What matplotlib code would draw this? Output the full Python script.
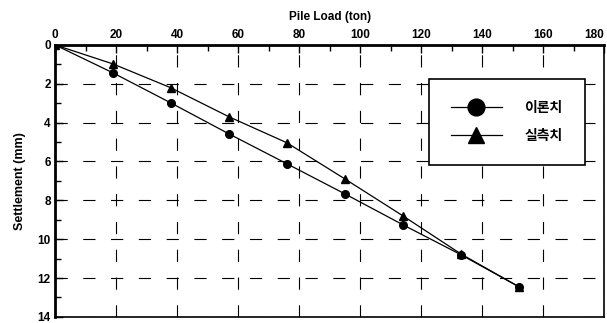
import matplotlib
matplotlib.use('Agg')
import matplotlib.pyplot as plt
from matplotlib.ticker import MultipleLocator

plt.rcParams['font.family'] = ['Liberation Sans', 'Noto Sans CJK KR', 'DejaVu Sans']

load = [0, 19, 38, 57, 76, 95, 114, 133, 152]
theory = [0, 1.44, 2.99, 4.58, 6.12, 7.67, 9.26, 10.8, 12.45]
measured = [0, 0.98, 2.21, 3.7, 5.04, 6.9, 8.8, 10.76, 12.45]
x_ticks = [0, 20, 40, 60, 80, 100, 120, 140, 160, 180]
y_ticks = [0, 2, 4, 6, 8, 10, 12, 14]

fig = plt.figure(figsize=(6.07, 3.23), dpi=100)
ax = fig.add_axes([0.0906, 0.019, 0.905, 0.842])

ax.plot(load, theory, '-o', color='black', lw=0.9, ms=5.5, label='이론치')
ax.plot(load, measured, '-^', color='black', lw=0.9, ms=5.5, label='실측치')

ax.set_xlim(0, 180)
ax.set_ylim(14, 0)
ax.set_xticks(x_ticks)
ax.set_xticklabels([str(t) for t in x_ticks], fontweight='bold')
ax.set_yticks(y_ticks)
ax.set_yticklabels([str(t) for t in y_ticks], fontweight='bold')
ax.xaxis.set_minor_locator(MultipleLocator(10))
ax.yaxis.set_minor_locator(MultipleLocator(1))
ax.xaxis.tick_top()
ax.xaxis.set_label_position('top')
ax.tick_params(which='both', direction='in', top=True, bottom=False, left=True, right=False,
               labelsize=8.5, pad=3)
ax.tick_params(which='major', length=6, width=1)
ax.tick_params(which='minor', length=4, width=1)
last = ax.xaxis.get_major_ticks()[-1]
last.label2.set_horizontalalignment('right')
last.label1.set_horizontalalignment('right')

ax.grid(True, which='major', color='black', lw=0.8, linestyle=(0, (11, 14)))

ax.spines['top'].set_linewidth(2)
ax.spines['left'].set_linewidth(2)
ax.spines['right'].set_linewidth(1.2)
ax.spines['bottom'].set_linewidth(1.2)

ax.set_xlabel('Pile Load (ton)', fontsize=8.5, fontweight='bold', labelpad=6)
ax.set_ylabel('Settlement (mm)', fontsize=9, fontweight='bold', labelpad=8)

leg = ax.legend(loc='upper left', bbox_to_anchor=(0.68, 0.875), borderaxespad=0,
                frameon=True, fancybox=False, edgecolor='black', framealpha=1,
                markerscale=2.2, handlelength=3.7, handletextpad=1.6,
                borderpad=1.6, labelspacing=1.0,
                prop={'family': ['Noto Sans CJK KR'], 'size': 10, 'weight': 'bold'})
leg.get_frame().set_linewidth(1.2)

fig.savefig('out.png', dpi=100)
